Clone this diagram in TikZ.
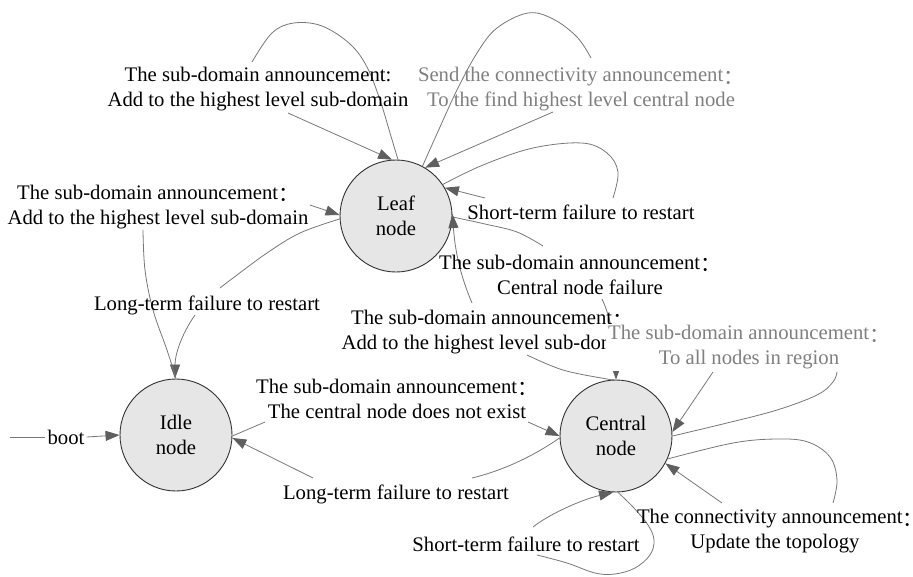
\documentclass[tikz,border=0pt]{standalone}
\usepackage{fontspec}
\setmainfont{Liberation Serif}
\newfontfamily\cjkfont{Noto Sans CJK SC}
\usetikzlibrary{arrows.meta}
% full-width colon, set on the Latin baseline
\newcommand{\fwcolon}{\raisebox{-0.11em}{\cjkfont ：}}
% the same colon with its trailing blank half trimmed (for a line at the right edge)
\newcommand{\fwcolontrim}{\makebox[0.5em][l]{\fwcolon}}
\definecolor{wiregray}{RGB}{120,120,120}
\definecolor{tipgray}{RGB}{95,95,95}
\definecolor{labelgray}{RGB}{128,128,128}
\definecolor{statefill}{RGB}{230,230,230}
\definecolor{stateline}{RGB}{50,50,50}

\begin{document}
\begin{tikzpicture}[x=1pt,y=-1pt,
  font=\fontsize{20.7}{25}\selectfont,
  state/.style={circle, draw=stateline, line width=0.9pt, fill=statefill,
    minimum size=112pt, inner sep=0pt, align=center},
  lbl/.style={align=center, inner sep=2pt},
  glbl/.style={lbl, text=labelgray},
  wire/.style={draw=wiregray, line width=0.8pt},
  arr/.style={wire, -{Triangle[length=14pt,width=10pt,color=tipgray]}}
]
\fill[white] (0,0) rectangle (913,576);
\useasboundingbox (0,0) rectangle (913,576);

% states
\node[state] (leaf) at (396,216) {Leaf\\node};
\node[state] (idle) at (176,435) {Idle\\node};
\node[state] (central) at (616,436) {Central\\node};

% leaf: self-loop, sub-domain announcement (upper left)
\draw[wire] plot[smooth, tension=0.6] coordinates {(leaf.88) (390,133) (380,100) (367,67) (350,44) (322,26) (294,23) (272,33) (252,62)};
\draw[arr] (288,113) -- (leaf.94);

% leaf: self-loop, connectivity announcement (upper right)
\draw[wire] plot[smooth, tension=0.6] coordinates {(leaf.62) (440,127) (457,90) (477,53) (497,28) (528,13) (553,19) (577,37) (591,58)};
\draw[arr] (553,112) -- (leaf.59);

% leaf: self-loop, short-term failure
\draw[wire] plot[smooth, tension=0.6] coordinates {(leaf.34) (483,165) (533,148) (582,143) (607,153) (618,172) (613,198)};
\draw[arr] (485,198) -- (leaf.30);

% leaf -> central: central node failure
\draw[wire] plot[smooth, tension=0.6] coordinates {(leaf.-1) (485,224) (517,232) (543,246)};
\draw[arr] (602,299) .. controls (612,320) and (616,350) .. (central.90);

% central -> leaf: add to the highest level sub-domain
\draw[wire] plot[smooth, tension=0.6] coordinates {(central.92) (607,379) (563,370) (527,355)};
\draw[arr] (472,303) .. controls (460,275) and (455,250) .. (leaf.2);

% leaf -> idle: long-term failure
\draw[wire] plot[smooth, tension=0.6] coordinates {(leaf.183) (300,233) (267,253) (233,278) (220,288)};
\draw[arr] (195,315) .. controls (181,335) and (175,355) .. (idle.91);

% idle -> leaf: add to the highest level sub-domain
\draw[wire] plot[smooth, tension=0.6] coordinates {(idle.90) (167,350) (153,310) (145,270) (143,230)};
\draw[arr] (310,205) -- (leaf.179);

% idle -> central: central node does not exist
\draw[wire] (idle.-1) -- (265,422);
\draw[arr] (528,422) -- (central.180);

% central -> idle: long-term failure
\draw[wire] (central.182) .. controls (535,455) and (505,470) .. (472,478);
\draw[arr] (313,478) -- (idle.-3);

% central: self-loop, short-term failure
\draw[wire] plot[smooth, tension=0.6] coordinates {(central.-88) (633,507) (648,525) (654,540) (650,555) (635,568) (615,574) (595,573) (567,563) (537,555)};
\draw[arr] (533,527) .. controls (548,515) and (580,500) .. (central.-93);

% central: self-loop, to all nodes in region
\draw[wire] plot[smooth, tension=0.6] coordinates {(central.0) (727,423) (777,410) (817,395) (833,382) (837,372)};
\draw[arr] (713,372) -- (central.4);

% central: self-loop, update the topology
\draw[wire] plot[smooth, tension=0.6] coordinates {(central.-24) (733,443) (777,439) (808,442) (830,457) (837,480) (833,503)};
\draw[arr] (722,503) -- (central.-29);

% start transition
\node[lbl] (boot) at (66,437) {boot};
\draw[wire] (10,437) -- (boot.west);
\draw[arr] (boot.east) -- (idle.180);

% transition labels
\node[lbl] (l1) at (258,89.5) {The sub-domain announcement:\\Add to the highest level sub-domain};
\node[glbl] (l2) at (581,89.5) {Send the connectivity announcement\fwcolon\\To the find highest level central node};
\node[lbl] (l3) at (158,207) {The sub-domain announcement\fwcolon\\Add to the highest level sub-domain};
\node[lbl] (l4) at (207,305) {Long-term failure to restart};
\node[lbl] (l5) at (581,212) {Short-term failure to restart};
\node[lbl] (l6) at (580,274.5) {The sub-domain announcement\fwcolon\\Central node failure};
\node[lbl] (l7) at (492,332.5) {The sub-domain announcement\fwcolon\\Add to the highest level sub-domain};
\node[glbl, fill=white] (l8) at (749,347.5) {The sub-domain announcement\fwcolon\\To all nodes in region};
\node[lbl] (l9) at (397,398.5) {The sub-domain announcement\fwcolon\\The central node does not exist};
\node[lbl] (l10) at (396,494) {Long-term failure to restart};
\node[lbl] (l11) at (526,544) {Short-term failure to restart};
\node[lbl, inner sep=0pt] (l12) at (775,531.5) {The connectivity announcement\fwcolontrim\\Update the topology};
\end{tikzpicture}
\end{document}
